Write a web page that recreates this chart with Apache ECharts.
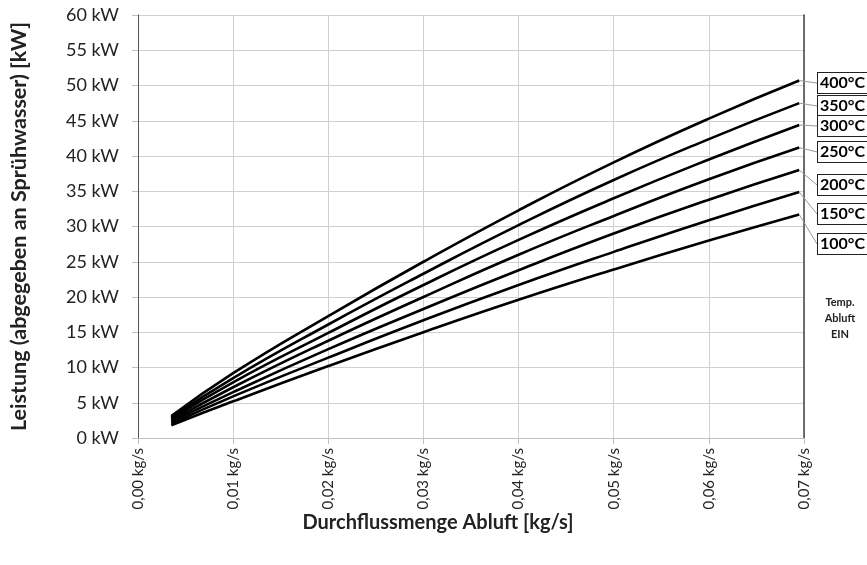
<!DOCTYPE html>
<html>
<head>
<meta charset="utf-8">
<script src="https://cdn.jsdelivr.net/npm/echarts@6/dist/echarts.min.js"></script>
<style>
html,body{margin:0;padding:0;background:#fff;}
#chart{width:867px;height:565px;}
</style>
</head>
<body>
<div id="chart"></div>
<script>
// Mass flow of exhaust air [kg/s]
const flowValues = [0.0035, 0.01, 0.02, 0.03, 0.04, 0.05, 0.06, 0.0695];
// Temperature labels (top to bottom)
const tempLabels = ['400°C', '350°C', '300°C', '250°C', '200°C', '150°C', '100°C'];
// Power [kW] per inlet temperature
const power400 = [3.1, 9.2, 17.3, 25.0, 32.3, 39.1, 45.3, 50.7];
const power350 = [2.9, 8.5, 16.1, 23.3, 30.2, 36.6, 42.4, 47.5];
const power300 = [2.7, 7.9, 14.9, 21.7, 28.1, 34.0, 39.5, 44.4];
const power250 = [2.45, 7.2, 13.8, 20.0, 26.0, 31.5, 36.7, 41.2];
const power200 = [2.25, 6.5, 12.6, 18.3, 23.8, 29.0, 33.8, 38.0];
const power150 = [2.0, 5.9, 11.4, 16.7, 21.7, 26.4, 30.9, 34.9];
const power100 = [1.8, 5.2, 10.2, 15.0, 19.6, 23.9, 28.0, 31.7];
const powerSeries = [power400, power350, power300, power250, power200, power150, power100];

// label box positions (layout, pixels)
const labelBoxY = [83, 106, 126, 152, 185, 214, 244];

const FONT = 'Lato, "Open Sans", "Liberation Sans", sans-serif';
const chart = echarts.init(document.getElementById('chart'));

const series = powerSeries.map((vals, si) => ({
  type: 'line',
  name: tempLabels[si],
  smooth: 0.5,
  symbol: 'circle',
  symbolSize: 0.1,
  showSymbol: true,
  silent: true,
  lineStyle: { color: '#000', width: 2.6 },
  itemStyle: { color: '#000' },
  data: vals.map((v, i) => {
    const item = { value: [flowValues[i], v] };
    if (i === vals.length - 1) {
      item.label = {
        show: true,
        formatter: tempLabels[si],
        fontFamily: FONT,
        fontWeight: 'bold',
        fontSize: 16,
        color: '#000',
        backgroundColor: '#fff',
        borderColor: '#222',
        borderWidth: 1,
        padding: [1, 2, 0, 2],
        lineHeight: 19
      };
      item.labelLine = { show: true, lineStyle: { color: '#999', width: 1 } };
    }
    return item;
  }),
  labelLayout: function () {
    return { x: 818, y: labelBoxY[si], align: 'left', verticalAlign: 'middle' };
  },
  labelLine: { show: true, lineStyle: { color: '#999', width: 1 } }
}));

chart.setOption({
  animation: false,
  backgroundColor: '#fff',
  grid: { left: 136, right: 63, top: 15, bottom: 127, containLabel: false },
  xAxis: {
    type: 'value',
    min: 0, max: 0.07, interval: 0.01,
    axisLine: { show: true, onZero: false, lineStyle: { color: '#bfbfbf', width: 1 } },
    axisTick: { show: true, length: 6, lineStyle: { color: '#bfbfbf' } },
    splitLine: { show: true, lineStyle: { color: '#d0d0d0', width: 1 } },
    axisLabel: {
      rotate: 90, margin: 10,
      fontFamily: FONT, fontSize: 15, color: '#222',
      formatter: v => v.toFixed(2).replace('.', ',') + ' kg/s'
    }
  },
  yAxis: [{
    type: 'value',
    min: 0, max: 60, interval: 5,
    name: 'Leistung (abgegeben an Sprühwasser) [kW]',
    nameLocation: 'middle',
    nameGap: 108,
    nameTextStyle: { fontFamily: FONT, fontWeight: 'bold', fontSize: 21.5, color: '#222' },
    axisLine: { show: true, lineStyle: { color: '#555', width: 1 } },
    axisTick: { show: true, length: 6, lineStyle: { color: '#bfbfbf' } },
    splitLine: { show: true, lineStyle: { color: '#d0d0d0', width: 1 } },
    axisLabel: {
      margin: 19, fontFamily: FONT, fontSize: 18, color: '#222',
      formatter: v => v + ' kW'
    }
  }, {
    type: 'value', position: 'right',
    min: 0, max: 60, interval: 5,
    axisLine: { show: true, lineStyle: { color: '#444', width: 1.5 } },
    axisTick: { show: false }, axisLabel: { show: false }, splitLine: { show: false }
  }],
  graphic: [
    {
      type: 'text',
      style: {
        x: 438, y: 523, text: 'Durchflussmenge Abluft [kg/s]',
        textAlign: 'center', textVerticalAlign: 'middle',
        fontFamily: FONT, fontWeight: 'bold', fontSize: 20, fill: '#222'
      }
    },
    {
      type: 'text',
      style: {
        x: 840, y: 318, text: 'Temp.\nAbluft\nEIN',
        textAlign: 'center', textVerticalAlign: 'middle',
        fontFamily: FONT, fontWeight: 'bold', fontSize: 11, lineHeight: 16, fill: '#222'
      }
    }
  ],
  series: series
});
</script>
</body>
</html>
